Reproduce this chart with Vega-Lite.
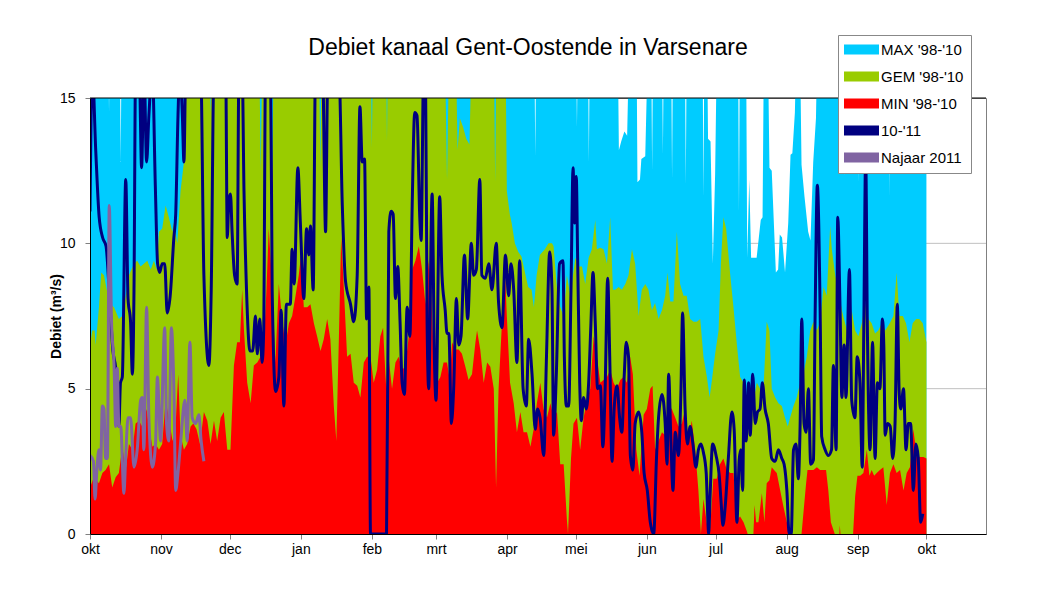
{
"$schema": "https://vega.github.io/schema/vega-lite/v6.json",
"width": 896, "height": 436,
"autosize": {"type": "none"},
"padding": {"left": 90, "top": 98, "right": 52, "bottom": 72},
"background": "white",
"title": {"text": "Debiet kanaal Gent-Oostende in Varsenare", "fontSize": 23, "font": "Liberation Sans", "fontWeight": "normal", "color": "black", "anchor": "middle", "dx": -10, "offset": -25},
"config": {"view": {"stroke": "#808080"}, "font": "Liberation Sans",
  "axis": {"labelFont": "Liberation Sans", "labelFontSize": 14, "labelColor": "black", "domainColor": "black", "tickColor": "#808080", "tickSize": 5, "titleFont": "Liberation Sans", "titleFontSize": 14, "titleFontWeight": "bold", "titleColor": "black"}},
"datasets": {
"grid": [{"v":5},{"v":10}],
"top": [{"v":15}],
"max": [{"d":0,"v":17},{"d":8,"v":17},{"d":8.3,"v":14.5},{"d":8.6,"v":17},{"d":13,"v":17},{"d":13.4,"v":12.8},{"d":13.8,"v":17},{"d":193.9,"v":17},{"d":194.3,"v":13.0},{"d":194.7,"v":17},{"d":212.1,"v":17},{"d":212.5,"v":14.0},{"d":212.9,"v":17},{"d":217.3,"v":17},{"d":217.7,"v":12.8},{"d":218.1,"v":17},{"d":230.3,"v":17},{"d":230.8,"v":13.2},{"d":231.8,"v":13.5},{"d":233.2,"v":13.85},{"d":234.4,"v":13.7},{"d":235.3,"v":17},{"d":238.5,"v":17},{"d":238.9,"v":12.1},{"d":240,"v":12.2},{"d":240.6,"v":12.9},{"d":242.3,"v":13.0},{"d":243.5,"v":17},{"d":244.9,"v":17},{"d":245.3,"v":12.5},{"d":245.7,"v":17},{"d":249.6,"v":17},{"d":250,"v":13.05},{"d":250.4,"v":17},{"d":253.6,"v":17},{"d":254,"v":12.2},{"d":254.4,"v":17},{"d":259.6,"v":17},{"d":260,"v":12.0},{"d":260.4,"v":17},{"d":267.3,"v":17},{"d":267.7,"v":11.6},{"d":268.1,"v":17},{"d":269.3,"v":17},{"d":269.7,"v":13.6},{"d":270.8,"v":13.5},{"d":271.8,"v":9.3},{"d":272.8,"v":12.4},{"d":273.6,"v":17},{"d":282.8,"v":17},{"d":283.2,"v":11.1},{"d":283.6,"v":17},{"d":286.3,"v":17},{"d":286.8,"v":9.5},{"d":287.7,"v":12.2},{"d":288.5,"v":9.5},{"d":290.9,"v":9.5},{"d":292.7,"v":10.8},{"d":293.5,"v":10.9},{"d":294.1,"v":17},{"d":295.8,"v":17},{"d":296.5,"v":12.6},{"d":297.5,"v":12.5},{"d":299.3,"v":9.0},{"d":300.3,"v":9.1},{"d":301,"v":10.3},{"d":302,"v":10.2},{"d":303.3,"v":9.0},{"d":304.7,"v":10.7},{"d":305.7,"v":13.05},{"d":306.5,"v":13.1},{"d":307.6,"v":14.5},{"d":308.3,"v":17},{"d":309.8,"v":17},{"d":310.5,"v":12.7},{"d":311.8,"v":11.6},{"d":313.4,"v":10.4},{"d":314.4,"v":10.1},{"d":315.6,"v":12.8},{"d":316.8,"v":14.3},{"d":317.4,"v":17},{"d":329,"v":17},{"d":329.4,"v":12.3},{"d":329.8,"v":17},{"d":335,"v":17},{"d":335.4,"v":12.1},{"d":335.8,"v":17},{"d":348.7,"v":17},{"d":349,"v":11.6},{"d":349.3,"v":17},{"d":365,"v":17}],
"gem": [{"d":0,"v":6.5},{"d":1,"v":7.0},{"d":2,"v":7.0},{"d":2.5,"v":6.5},{"d":3.9,"v":7.8},{"d":4.9,"v":9.0},{"d":6.1,"v":8.9},{"d":7.3,"v":8.4},{"d":9,"v":7.9},{"d":10.5,"v":7.8},{"d":12.6,"v":7.4},{"d":14.1,"v":7.5},{"d":15.6,"v":8.2},{"d":17,"v":8.9},{"d":19.2,"v":9.3},{"d":20.6,"v":9.4},{"d":22.1,"v":9.2},{"d":23.5,"v":9.3},{"d":25,"v":9.4},{"d":26.5,"v":9.1},{"d":27.9,"v":9.4},{"d":29.1,"v":9.1},{"d":30.1,"v":10.4},{"d":31.5,"v":10.5},{"d":33,"v":11.3},{"d":34.4,"v":10.9},{"d":35.9,"v":10.4},{"d":36.6,"v":10.7},{"d":38.1,"v":10.0},{"d":39.5,"v":11.8},{"d":41,"v":12.8},{"d":42,"v":17},{"d":52,"v":17},{"d":52.6,"v":14.5},{"d":53.5,"v":17},{"d":73.8,"v":17},{"d":74.5,"v":12.5},{"d":75.3,"v":17},{"d":78.9,"v":17},{"d":79.5,"v":12.2},{"d":80.2,"v":17},{"d":99.9,"v":17},{"d":100.5,"v":12.6},{"d":101.1,"v":17},{"d":122.5,"v":17},{"d":123,"v":13.3},{"d":123.5,"v":17},{"d":129.2,"v":17},{"d":129.6,"v":13.5},{"d":130,"v":17},{"d":154.8,"v":17},{"d":155.8,"v":12.2},{"d":156.8,"v":17},{"d":159.6,"v":17},{"d":160.4,"v":13.2},{"d":161.4,"v":14.3},{"d":162.8,"v":14.0},{"d":164.2,"v":13.6},{"d":165.6,"v":13.4},{"d":166.6,"v":17},{"d":176.2,"v":17},{"d":176.8,"v":12.1},{"d":177.4,"v":17},{"d":181.3,"v":17},{"d":181.9,"v":11.8},{"d":183.2,"v":11.0},{"d":184,"v":10.7},{"d":185.4,"v":10.0},{"d":186.9,"v":9.7},{"d":188.3,"v":9.55},{"d":189.8,"v":9.0},{"d":191.2,"v":8.5},{"d":192.7,"v":8.4},{"d":193.7,"v":7.8},{"d":194.9,"v":8.9},{"d":196.3,"v":9.6},{"d":198.5,"v":9.8},{"d":200.1,"v":10.0},{"d":201.6,"v":10.0},{"d":202.3,"v":9.9},{"d":203.8,"v":8.4},{"d":205.2,"v":7.8},{"d":206.7,"v":7.5},{"d":208.1,"v":8.9},{"d":209.6,"v":8.2},{"d":211.8,"v":9.5},{"d":213.2,"v":9.2},{"d":214.7,"v":9.2},{"d":216.1,"v":8.6},{"d":217.6,"v":9.5},{"d":219,"v":9.8},{"d":220.5,"v":10.8},{"d":221.2,"v":9.8},{"d":222.7,"v":9.85},{"d":224.1,"v":9.8},{"d":225.6,"v":9.3},{"d":227,"v":10.9},{"d":228.2,"v":8.4},{"d":229.2,"v":8.4},{"d":230.7,"v":8.5},{"d":232.1,"v":8.4},{"d":233.6,"v":8.6},{"d":235,"v":8.9},{"d":236.5,"v":9.8},{"d":237.9,"v":9.3},{"d":239.4,"v":7.5},{"d":240.8,"v":8.4},{"d":242.3,"v":8.6},{"d":243.7,"v":8.4},{"d":245.2,"v":7.7},{"d":246.6,"v":7.95},{"d":248.1,"v":7.4},{"d":249.6,"v":7.7},{"d":251,"v":8.2},{"d":252,"v":9.0},{"d":253.2,"v":8.0},{"d":254.6,"v":8.0},{"d":256.1,"v":10.4},{"d":257.5,"v":8.6},{"d":259,"v":8.2},{"d":260.4,"v":8.2},{"d":261.9,"v":7.4},{"d":263.4,"v":7.3},{"d":264.8,"v":7.3},{"d":266.3,"v":7.4},{"d":267.7,"v":6.1},{"d":269.2,"v":5.4},{"d":270.4,"v":4.7},{"d":271.4,"v":5.3},{"d":272.8,"v":6.2},{"d":274.3,"v":7.0},{"d":275.3,"v":9.3},{"d":276.4,"v":10.9},{"d":277.6,"v":10.5},{"d":279.4,"v":8.9},{"d":280.8,"v":7.8},{"d":282.3,"v":6.5},{"d":283.7,"v":5.4},{"d":285.2,"v":5.2},{"d":286.6,"v":4.7},{"d":288.1,"v":4.5},{"d":289.5,"v":4.6},{"d":291,"v":5.2},{"d":292.4,"v":5.0},{"d":293.9,"v":5.0},{"d":295.3,"v":7.3},{"d":296.5,"v":7.0},{"d":297.5,"v":5.0},{"d":299,"v":4.7},{"d":300.4,"v":4.5},{"d":301.9,"v":4.4},{"d":303.3,"v":4.0},{"d":304.5,"v":3.7},{"d":305.5,"v":4.0},{"d":307,"v":4.4},{"d":308.4,"v":4.7},{"d":309.9,"v":5.2},{"d":311.3,"v":5.5},{"d":312.8,"v":6.1},{"d":314.3,"v":7.0},{"d":315.7,"v":7.3},{"d":317.2,"v":7.0},{"d":318.6,"v":7.3},{"d":320.1,"v":8.5},{"d":321.5,"v":8.2},{"d":323,"v":10.6},{"d":323.7,"v":9.8},{"d":325.2,"v":8.9},{"d":326.6,"v":8.4},{"d":328.1,"v":7.7},{"d":329.5,"v":7.25},{"d":331,"v":6.8},{"d":332.4,"v":7.7},{"d":333.9,"v":7.0},{"d":335.3,"v":6.8},{"d":336.8,"v":7.25},{"d":338.2,"v":7.95},{"d":339.7,"v":7.4},{"d":341.1,"v":7.25},{"d":342.6,"v":6.9},{"d":344,"v":7.0},{"d":345.5,"v":7.25},{"d":347,"v":7.0},{"d":349,"v":7.25},{"d":350.6,"v":7.5},{"d":352,"v":9.0},{"d":353.2,"v":7.5},{"d":354.7,"v":7.5},{"d":356.1,"v":7.25},{"d":357.6,"v":6.6},{"d":359,"v":7.25},{"d":360.5,"v":7.4},{"d":361.9,"v":7.4},{"d":363.4,"v":7.25},{"d":365,"v":6.6}],
"min": [{"d":0,"v":1.6},{"d":1.7,"v":1.95},{"d":3.9,"v":1.75},{"d":5.4,"v":2.1},{"d":6.8,"v":2.2},{"d":8.3,"v":2.4},{"d":9.7,"v":1.6},{"d":11.2,"v":1.95},{"d":12.6,"v":2.1},{"d":14.1,"v":3.0},{"d":15.6,"v":2.2},{"d":17,"v":3.1},{"d":18.5,"v":2.9},{"d":19.9,"v":3.8},{"d":21.4,"v":3.9},{"d":22.8,"v":3.7},{"d":24.7,"v":4.3},{"d":25.7,"v":3.7},{"d":27.2,"v":3.0},{"d":28.6,"v":3.1},{"d":30.1,"v":2.9},{"d":31.5,"v":3.1},{"d":33,"v":4.6},{"d":34.4,"v":4.0},{"d":36,"v":3.2},{"d":37.2,"v":3.5},{"d":38.5,"v":5.5},{"d":39.5,"v":3.4},{"d":41,"v":2.9},{"d":42.4,"v":3.1},{"d":43.9,"v":3.7},{"d":45.1,"v":3.8},{"d":46.5,"v":3.6},{"d":48,"v":3.1},{"d":49.7,"v":4.2},{"d":51.2,"v":3.9},{"d":52.6,"v":3.1},{"d":54.1,"v":3.9},{"d":55.5,"v":3.2},{"d":57,"v":4.0},{"d":58.4,"v":4.2},{"d":59.9,"v":2.9},{"d":61.3,"v":2.9},{"d":62.8,"v":5.8},{"d":64.2,"v":6.6},{"d":65.4,"v":6.6},{"d":66.4,"v":8.4},{"d":67.2,"v":7.0},{"d":68.6,"v":5.2},{"d":70.1,"v":4.5},{"d":71.5,"v":5.8},{"d":73,"v":5.9},{"d":74.4,"v":6.1},{"d":75.9,"v":6.6},{"d":77,"v":8.4},{"d":78,"v":10.5},{"d":79.5,"v":8.6},{"d":80.9,"v":5.9},{"d":82.4,"v":8.6},{"d":83.8,"v":7.4},{"d":85.3,"v":6.5},{"d":86.8,"v":7.25},{"d":88.2,"v":7.5},{"d":89.7,"v":8.2},{"d":91.1,"v":8.9},{"d":92.1,"v":9.6},{"d":93.3,"v":7.8},{"d":94.8,"v":7.8},{"d":96.2,"v":7.9},{"d":97.7,"v":7.25},{"d":99.1,"v":6.8},{"d":100.6,"v":6.3},{"d":102,"v":6.7},{"d":103.5,"v":7.4},{"d":104.9,"v":6.7},{"d":106.4,"v":4.4},{"d":107.5,"v":3.2},{"d":108.6,"v":6.7},{"d":109.6,"v":10.2},{"d":110.8,"v":8.4},{"d":112.2,"v":6.1},{"d":113.7,"v":6.2},{"d":115.1,"v":5.2},{"d":116.6,"v":5.1},{"d":118,"v":4.7},{"d":119.5,"v":5.9},{"d":120.9,"v":6.1},{"d":122.4,"v":6.1},{"d":123.8,"v":5.2},{"d":125.3,"v":5.65},{"d":126.7,"v":6.8},{"d":127.9,"v":7.1},{"d":128.9,"v":5.5},{"d":129.3,"v":5.0},{"d":130.4,"v":6.0},{"d":131.8,"v":5.0},{"d":133.3,"v":5.9},{"d":134.7,"v":6.1},{"d":136.2,"v":5.65},{"d":137.6,"v":5.75},{"d":139.1,"v":6.8},{"d":140.6,"v":9.1},{"d":142,"v":9.4},{"d":143.5,"v":9.9},{"d":144.9,"v":9.1},{"d":146.4,"v":7.9},{"d":147.8,"v":9.4},{"d":148.8,"v":8.4},{"d":150.3,"v":5.65},{"d":151.5,"v":5.2},{"d":152.9,"v":5.4},{"d":154.3,"v":5.9},{"d":155.8,"v":5.9},{"d":157,"v":5.3},{"d":158,"v":6.6},{"d":159.4,"v":6.35},{"d":160.9,"v":6.35},{"d":162.3,"v":6.2},{"d":163.8,"v":5.75},{"d":165.2,"v":5.3},{"d":166.7,"v":5.5},{"d":168.2,"v":6.6},{"d":168.9,"v":7.0},{"d":170.3,"v":6.35},{"d":171.8,"v":5.2},{"d":173.3,"v":5.9},{"d":174.7,"v":5.75},{"d":176.2,"v":5.0},{"d":177.2,"v":1.6},{"d":178.3,"v":5.0},{"d":179.8,"v":7.3},{"d":180.8,"v":9.6},{"d":181.9,"v":7.5},{"d":183.3,"v":5.2},{"d":184.9,"v":4.5},{"d":186.3,"v":3.5},{"d":187.8,"v":4.2},{"d":189.2,"v":3.5},{"d":190.7,"v":3.5},{"d":192.2,"v":3.0},{"d":193.6,"v":3.6},{"d":195,"v":4.5},{"d":196.5,"v":5.2},{"d":197.9,"v":4.3},{"d":199.4,"v":4.0},{"d":200.9,"v":4.5},{"d":202.3,"v":4.0},{"d":203.8,"v":4.2},{"d":205.2,"v":2.4},{"d":206.7,"v":2.4},{"d":208.1,"v":0.5},{"d":208.6,"v":0},{"d":209.9,"v":2.6},{"d":211,"v":3.8},{"d":212.5,"v":4.0},{"d":213.9,"v":2.9},{"d":215.4,"v":4.0},{"d":216.9,"v":4.6},{"d":218.3,"v":5.0},{"d":219.8,"v":6.8},{"d":221.2,"v":6.1},{"d":222.7,"v":5.2},{"d":224.1,"v":5.3},{"d":225.6,"v":5.4},{"d":227,"v":5.65},{"d":228.5,"v":5.2},{"d":229.9,"v":5.0},{"d":231.4,"v":5.3},{"d":232.8,"v":5.4},{"d":234.3,"v":5.2},{"d":235.7,"v":6.1},{"d":236.9,"v":5.5},{"d":238.4,"v":2.9},{"d":239.8,"v":2.0},{"d":241.6,"v":4.1},{"d":243,"v":4.3},{"d":244.5,"v":5.0},{"d":245.5,"v":5.1},{"d":246.6,"v":2.9},{"d":248.1,"v":3.2},{"d":249.6,"v":3.5},{"d":251,"v":3.4},{"d":252.5,"v":4.4},{"d":253.9,"v":4.3},{"d":255.4,"v":4.0},{"d":256.8,"v":3.7},{"d":258.3,"v":3.8},{"d":259.7,"v":4.3},{"d":261.2,"v":3.2},{"d":262.6,"v":3.9},{"d":264.1,"v":2.9},{"d":265.5,"v":1.5},{"d":266.6,"v":0},{"d":267.7,"v":1.2},{"d":269.2,"v":0.35},{"d":270.6,"v":0.15},{"d":272,"v":1.9},{"d":273.5,"v":1.9},{"d":274.9,"v":2.4},{"d":276.4,"v":2.6},{"d":277.9,"v":2.2},{"d":279.4,"v":2.1},{"d":280.8,"v":2.1},{"d":282.3,"v":0.5},{"d":283.7,"v":0.6},{"d":285.2,"v":0.4},{"d":286.6,"v":0.1},{"d":287,"v":0},{"d":289.5,"v":0},{"d":290,"v":1.0},{"d":290.7,"v":0.4},{"d":291.7,"v":0.4},{"d":293.2,"v":1.4},{"d":294.3,"v":0.4},{"d":295.3,"v":1.75},{"d":296.5,"v":1.85},{"d":297.5,"v":2.3},{"d":298.5,"v":2.2},{"d":299.7,"v":2.1},{"d":301.2,"v":1.5},{"d":302.6,"v":0.95},{"d":304.1,"v":0.4},{"d":305.5,"v":0},{"d":310.5,"v":0},{"d":312.5,"v":1.75},{"d":313.1,"v":2.2},{"d":315.7,"v":2.2},{"d":317.2,"v":2.3},{"d":318.6,"v":2.2},{"d":321.2,"v":2.2},{"d":322.2,"v":1.5},{"d":323.3,"v":0.4},{"d":325,"v":0},{"d":327,"v":0},{"d":327.2,"v":0.3},{"d":327.5,"v":0},{"d":333,"v":0},{"d":333.9,"v":1.3},{"d":334.9,"v":2.0},{"d":336.1,"v":2.0},{"d":337.5,"v":2.1},{"d":339,"v":2.9},{"d":340.1,"v":2.0},{"d":341.1,"v":2.2},{"d":342.2,"v":2.0},{"d":343.3,"v":2.1},{"d":344.7,"v":2.2},{"d":346.2,"v":2.3},{"d":347.7,"v":1.0},{"d":349.1,"v":2.1},{"d":350.6,"v":2.4},{"d":352,"v":2.1},{"d":353.5,"v":2.2},{"d":355,"v":1.5},{"d":356.4,"v":2.1},{"d":357.8,"v":2.3},{"d":359.3,"v":3.6},{"d":360.8,"v":2.65},{"d":362.2,"v":2.65},{"d":363.7,"v":2.65},{"d":365,"v":2.6}],
"s1011": [{"d":0,"v":11.1},{"d":1,"v":16},{"d":2.5,"v":13.2},{"d":4,"v":10.9},{"d":5.5,"v":10.2},{"d":7,"v":9.9},{"d":8.5,"v":8.2},{"d":10,"v":6.3},{"d":11.2,"v":5.7},{"d":12.6,"v":3.7},{"d":13.3,"v":5.2},{"d":14.1,"v":5.4},{"d":15.6,"v":12.2},{"d":16.6,"v":8.1},{"d":17.7,"v":7.3},{"d":18.5,"v":5.5},{"d":19.2,"v":8.4},{"d":19.9,"v":16},{"d":21.5,"v":16},{"d":22.5,"v":12.6},{"d":23.6,"v":16},{"d":24.7,"v":12.8},{"d":25.7,"v":14.4},{"d":27.2,"v":16},{"d":28.5,"v":12},{"d":29.5,"v":9.3},{"d":30.4,"v":9.0},{"d":31.5,"v":9.3},{"d":32.6,"v":9.3},{"d":33.7,"v":7.6},{"d":35,"v":8.2},{"d":36.6,"v":10.2},{"d":37.4,"v":11.0},{"d":38.4,"v":14.4},{"d":39.2,"v":16},{"d":40.3,"v":14.4},{"d":41,"v":12.8},{"d":41.8,"v":16},{"d":48.3,"v":16},{"d":49.7,"v":8.9},{"d":51.9,"v":5.8},{"d":52.9,"v":8.4},{"d":54.1,"v":16},{"d":59.2,"v":16},{"d":59.9,"v":10.2},{"d":60.6,"v":11.5},{"d":61.3,"v":11.7},{"d":62,"v":10.4},{"d":63.1,"v":8.9},{"d":64.2,"v":8.6},{"d":65,"v":16},{"d":66.4,"v":16},{"d":67.2,"v":11.8},{"d":68.3,"v":8.4},{"d":69.8,"v":6.3},{"d":71,"v":6.3},{"d":72.2,"v":7.5},{"d":73,"v":6.2},{"d":74.1,"v":7.4},{"d":75.1,"v":5.9},{"d":75.8,"v":7.0},{"d":76.6,"v":16},{"d":78.8,"v":16},{"d":79.5,"v":8.4},{"d":81,"v":4.9},{"d":82.4,"v":5.4},{"d":83.4,"v":7.7},{"d":84.6,"v":4.4},{"d":85.7,"v":7.9},{"d":87.4,"v":7.9},{"d":88.2,"v":9.8},{"d":89.1,"v":8.6},{"d":90.7,"v":12.6},{"d":91.8,"v":10.7},{"d":93.3,"v":8.1},{"d":94.5,"v":10.5},{"d":95.5,"v":9.6},{"d":96.2,"v":10.6},{"d":97.4,"v":8.4},{"d":98.4,"v":16},{"d":101.5,"v":16},{"d":102.8,"v":10.4},{"d":103.8,"v":16},{"d":108.6,"v":16},{"d":110.1,"v":11.3},{"d":111.5,"v":8.7},{"d":113.7,"v":7.9},{"d":115.1,"v":7.3},{"d":116.6,"v":8.9},{"d":117.8,"v":14.7},{"d":118.8,"v":12.8},{"d":119.8,"v":12.9},{"d":120.7,"v":7.4},{"d":121.7,"v":8.5},{"d":122.4,"v":0},{"d":129.4,"v":0},{"d":130.4,"v":10.4},{"d":131.4,"v":11.1},{"d":132.3,"v":11.0},{"d":133.3,"v":8.1},{"d":134.3,"v":9.2},{"d":135.3,"v":7.3},{"d":136.2,"v":5.2},{"d":137.2,"v":4.8},{"d":138.4,"v":7.8},{"d":139.6,"v":6.8},{"d":140.6,"v":11.3},{"d":141.7,"v":14.5},{"d":142.7,"v":14.4},{"d":143.9,"v":10.9},{"d":144.5,"v":10.1},{"d":145.6,"v":16},{"d":146.4,"v":16},{"d":147.1,"v":7.3},{"d":147.8,"v":5.0},{"d":149.3,"v":11.7},{"d":150.3,"v":6.0},{"d":151,"v":4.6},{"d":152.6,"v":11.6},{"d":153.6,"v":8.9},{"d":155,"v":7.7},{"d":155.8,"v":6.9},{"d":156.6,"v":6.9},{"d":157.7,"v":3.8},{"d":158.7,"v":5.0},{"d":159.9,"v":8.1},{"d":160.9,"v":6.5},{"d":161.9,"v":6.8},{"d":163.4,"v":9.6},{"d":164.8,"v":7.4},{"d":166.4,"v":10.0},{"d":167.4,"v":8.9},{"d":168.6,"v":9.1},{"d":170.1,"v":12.2},{"d":171,"v":8.9},{"d":172.5,"v":8.8},{"d":174,"v":9.3},{"d":175.4,"v":8.4},{"d":177.3,"v":10.0},{"d":178.3,"v":7.95},{"d":179.8,"v":7.1},{"d":181.3,"v":9.6},{"d":182.7,"v":8.2},{"d":183.7,"v":9.3},{"d":184.9,"v":8.4},{"d":186.3,"v":5.9},{"d":187.5,"v":9.4},{"d":189,"v":5.0},{"d":190.4,"v":4.4},{"d":191.4,"v":6.7},{"d":192.9,"v":5.5},{"d":194.3,"v":3.6},{"d":195.3,"v":4.3},{"d":196.4,"v":4.0},{"d":198,"v":2.7},{"d":199.2,"v":6.1},{"d":200.6,"v":9.7},{"d":201.6,"v":8.4},{"d":202.3,"v":3.4},{"d":203.5,"v":5.5},{"d":204.9,"v":9.3},{"d":206.4,"v":9.4},{"d":207,"v":6.1},{"d":207.9,"v":4.4},{"d":208.9,"v":4.4},{"d":209.9,"v":8.4},{"d":210.8,"v":12.6},{"d":211.5,"v":10.7},{"d":212.2,"v":12.3},{"d":212.8,"v":9.5},{"d":213.7,"v":5.2},{"d":214.4,"v":3.9},{"d":215.4,"v":4.7},{"d":216.6,"v":4.3},{"d":217.6,"v":5.2},{"d":218.6,"v":7.25},{"d":219.5,"v":9.0},{"d":220.5,"v":7.25},{"d":221.5,"v":5.0},{"d":222.7,"v":5.1},{"d":223.8,"v":3.0},{"d":224.8,"v":5.0},{"d":225.9,"v":8.8},{"d":226.8,"v":6.1},{"d":227.8,"v":2.5},{"d":228.8,"v":4.4},{"d":230,"v":5.1},{"d":231.1,"v":4.0},{"d":232.1,"v":3.5},{"d":233.1,"v":5.4},{"d":234,"v":6.6},{"d":235,"v":6.1},{"d":235.8,"v":2.7},{"d":236.9,"v":2.2},{"d":237.9,"v":3.8},{"d":239.4,"v":4.2},{"d":240.8,"v":3.5},{"d":241.8,"v":2.1},{"d":243.2,"v":1.5},{"d":244.5,"v":0.4},{"d":246,"v":0},{"d":247.2,"v":2.6},{"d":248.1,"v":4.0},{"d":249.6,"v":4.8},{"d":251,"v":3.8},{"d":251.8,"v":2.4},{"d":252.5,"v":5.5},{"d":253.5,"v":3.2},{"d":254.4,"v":1.5},{"d":255.4,"v":3.5},{"d":256.8,"v":2.7},{"d":257.9,"v":5.0},{"d":258.6,"v":7.6},{"d":259.7,"v":4.3},{"d":260.7,"v":3.1},{"d":261.9,"v":3.7},{"d":263.1,"v":3.1},{"d":264.4,"v":2.3},{"d":265.5,"v":2.9},{"d":266.6,"v":3.1},{"d":267.7,"v":2.8},{"d":268.9,"v":2.1},{"d":270,"v":0},{"d":270.6,"v":1.3},{"d":271.7,"v":3.1},{"d":273.2,"v":2.7},{"d":274.6,"v":2.0},{"d":275.4,"v":1.1},{"d":276.2,"v":0.3},{"d":277.2,"v":0.95},{"d":278.6,"v":2.65},{"d":280.1,"v":4.2},{"d":281.1,"v":3.6},{"d":282.3,"v":0.4},{"d":283.3,"v":2.55},{"d":284,"v":2.9},{"d":284.8,"v":1.5},{"d":285.5,"v":5.3},{"d":286.3,"v":3.2},{"d":287.4,"v":5.2},{"d":288.1,"v":3.4},{"d":289.2,"v":5.5},{"d":290.3,"v":3.8},{"d":291.3,"v":4.2},{"d":292.4,"v":4.3},{"d":293.4,"v":5.2},{"d":294.6,"v":4.3},{"d":296,"v":3.8},{"d":297.5,"v":2.6},{"d":299,"v":2.5},{"d":300.4,"v":2.9},{"d":301.9,"v":2.6},{"d":302.9,"v":2.4},{"d":304.1,"v":1.5},{"d":305.1,"v":0},{"d":306,"v":0},{"d":307,"v":2.9},{"d":308.1,"v":3.1},{"d":309.1,"v":1.9},{"d":309.9,"v":3.8},{"d":310.6,"v":7.4},{"d":311.6,"v":3.8},{"d":312.5,"v":3.5},{"d":313.5,"v":5.0},{"d":314.5,"v":2.4},{"d":315.7,"v":2.55},{"d":316.4,"v":7.3},{"d":317.4,"v":12.0},{"d":318.6,"v":7.8},{"d":319.3,"v":3.35},{"d":320.8,"v":2.9},{"d":322.2,"v":2.7},{"d":323.6,"v":2.9},{"d":324.4,"v":5.8},{"d":325.6,"v":2.9},{"d":326.3,"v":10.9},{"d":327.3,"v":7.8},{"d":328.1,"v":4.7},{"d":329.1,"v":6.5},{"d":329.9,"v":4.7},{"d":331.4,"v":9.1},{"d":332.4,"v":4.6},{"d":333.8,"v":4.0},{"d":334.8,"v":6.1},{"d":336,"v":5.2},{"d":337,"v":2.3},{"d":337.7,"v":7.3},{"d":338.5,"v":13.0},{"d":339.2,"v":7.3},{"d":340.4,"v":2.9},{"d":341.5,"v":6.6},{"d":342.6,"v":2.6},{"d":343.6,"v":5.2},{"d":344.7,"v":5.0},{"d":345.8,"v":7.4},{"d":346.4,"v":6.5},{"d":347,"v":3.4},{"d":348,"v":3.8},{"d":349.2,"v":3.7},{"d":350.3,"v":2.6},{"d":351.3,"v":3.8},{"d":352.3,"v":7.9},{"d":353.1,"v":4.9},{"d":353.8,"v":4.3},{"d":355,"v":5.0},{"d":356.1,"v":2.9},{"d":357.1,"v":3.8},{"d":358.1,"v":3.8},{"d":359.3,"v":1.5},{"d":360.4,"v":3.1},{"d":361.4,"v":2.65},{"d":362.5,"v":0.4},{"d":363.4,"v":0.7}],
"najaar": [{"d":0,"v":2.7},{"d":1.5,"v":2.5},{"d":2.2,"v":1.2},{"d":3,"v":2.2},{"d":3.9,"v":2.9},{"d":4.6,"v":2.2},{"d":5.4,"v":4.4},{"d":6.1,"v":4.3},{"d":6.8,"v":2.6},{"d":7.6,"v":2.6},{"d":8.4,"v":11.3},{"d":9.4,"v":7.3},{"d":10.5,"v":5.8},{"d":11.2,"v":3.7},{"d":11.9,"v":5.7},{"d":12.6,"v":3.7},{"d":13.4,"v":3.7},{"d":14.8,"v":1.4},{"d":15.6,"v":2.7},{"d":16.6,"v":4.0},{"d":17.7,"v":4.0},{"d":19.2,"v":2.3},{"d":20.6,"v":2.9},{"d":22.1,"v":4.6},{"d":22.8,"v":4.7},{"d":23.5,"v":2.9},{"d":24.7,"v":7.8},{"d":25.7,"v":4.0},{"d":27.2,"v":2.3},{"d":28.6,"v":3.1},{"d":29.4,"v":5.4},{"d":30.8,"v":3.2},{"d":32.6,"v":7.1},{"d":33.4,"v":3.8},{"d":34.4,"v":3.2},{"d":35.5,"v":7.1},{"d":36.6,"v":5.0},{"d":37.4,"v":1.5},{"d":38.4,"v":2.1},{"d":39.5,"v":3.1},{"d":41.4,"v":4.6},{"d":42.4,"v":3.2},{"d":43.6,"v":6.6},{"d":44.6,"v":4.0},{"d":46.1,"v":3.8},{"d":47.5,"v":4.1},{"d":48.5,"v":3.2},{"d":49.7,"v":2.5}]
},
"encoding": {
  "y": {"field": "v", "type": "quantitative", "scale": {"domain": [0, 15], "nice": false}, "title": "Debiet (m³/s)",
        "axis": {"values": [0, 5, 10, 15], "grid": false, "zindex": 1, "titlePadding": -4, "labelPadding": 10}}
},
"layer": [
  {"data": {"name": "grid"}, "mark": {"type": "rule", "color": "#c0c0c0", "strokeWidth": 1}},
  {"data": {"name": "max"}, "mark": {"type": "area", "clip": true, "opacity": 1},
   "encoding": {
     "x": {"field": "d", "type": "quantitative", "scale": {"domain": [0, 391], "nice": false, "zero": false}, "title": null,
           "axis": {"values": [0,31,61,92,123,151,182,212,243,273,304,335,365], "labelExpr": "['okt','nov','dec','jan','feb','mrt','apr','mei','jun','jul','aug','sep','okt'][indexof([0,31,61,92,123,151,182,212,243,273,304,335,365], datum.value)]", "grid": false, "zindex": 1, "labelFlush": false, "labelOverlap": false, "labelPadding": 3}},
     "color": {"datum": "MAX '98-'10", "type": "nominal",
       "scale": {"domain": ["MAX '98-'10", "GEM '98-'10", "MIN '98-'10", "10-'11", "Najaar 2011"], "range": ["#00CCFF", "#99CC00", "#FF0000", "#000080", "#8064A2"]},
       "legend": {"title": null, "orient": "none", "legendX": 748, "legendY": -63, "padding": 7, "fillColor": "white", "strokeColor": "#888888",
         "labelFont": "Liberation Sans", "labelFontSize": 15, "labelColor": "black", "symbolSize": 100, "symbolOffset": 9, "labelOffset": 12, "rowPadding": 11,
         "symbolType": "M-3.5,-1H3.5V1H-3.5Z", "symbolStrokeWidth": 0,
         "encode": {"symbols": {"update": {
           "shape": {"signal": "datum.index >= 3 ? 'M-3.5,-0.3H3.5V0.3H-3.5Z' : 'M-3.5,-1H3.5V1H-3.5Z'"},
           "fill": {"signal": "scale('color', datum.value)"},
           "stroke": {"value": "transparent"},
           "opacity": {"value": 1}}}}}}
   }},
  {"data": {"name": "gem"}, "mark": {"type": "area", "clip": true, "opacity": 1},
   "encoding": {
     "x": {"field": "d", "type": "quantitative"},
     "color": {"datum": "GEM '98-'10", "type": "nominal"}}},
  {"data": {"name": "min"}, "mark": {"type": "area", "clip": true, "opacity": 1},
   "encoding": {
     "x": {"field": "d", "type": "quantitative"},
     "color": {"datum": "MIN '98-'10", "type": "nominal"}}},
  {"data": {"name": "s1011"}, "mark": {"type": "line", "clip": true, "strokeWidth": 3, "interpolate": "monotone"},
   "encoding": {
     "x": {"field": "d", "type": "quantitative"},
     "color": {"datum": "10-'11", "type": "nominal"}}},
  {"data": {"name": "najaar"}, "mark": {"type": "line", "clip": true, "strokeWidth": 3, "interpolate": "monotone"},
   "encoding": {
     "x": {"field": "d", "type": "quantitative"},
     "color": {"datum": "Najaar 2011", "type": "nominal"}}},
  {"data": {"name": "top"}, "mark": {"type": "rule", "color": "black", "strokeWidth": 1}}
]
}
